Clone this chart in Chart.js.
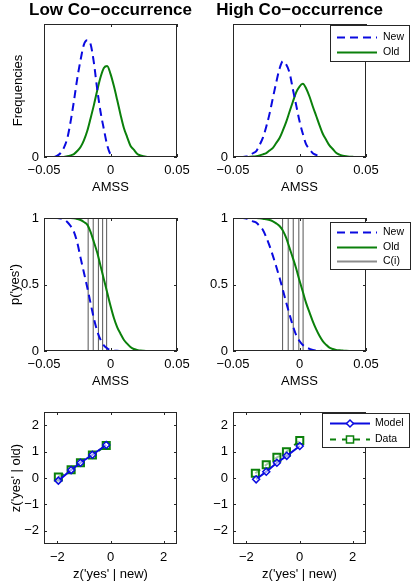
<!DOCTYPE html>
<html><head><meta charset="utf-8">
<script src="https://cdn.jsdelivr.net/npm/chart.js@4/dist/chart.umd.min.js"></script>
<style>
html,body{margin:0;padding:0;background:#fff;width:413px;height:582px;overflow:hidden}
canvas{position:absolute}
</style></head><body>
<canvas id="c1" width="206" height="200" style="left:0;top:0"></canvas>
<canvas id="c2" width="207" height="200" style="left:206px;top:0"></canvas>
<canvas id="c3" width="206" height="194" style="left:0;top:200px"></canvas>
<canvas id="c4" width="207" height="194" style="left:206px;top:200px"></canvas>
<canvas id="c5" width="206" height="188" style="left:0;top:394px"></canvas>
<canvas id="c6" width="207" height="188" style="left:206px;top:394px"></canvas>
<script>
// ---------------- data ----------------
const panelTitles = ['Low Co\u2212occurrence', 'High Co\u2212occurrence'];
const amss = [-0.045,-0.0425,-0.04,-0.0375,-0.035,-0.0325,-0.03,-0.0275,-0.025,-0.0225,-0.02,-0.0175,-0.015,-0.0125,-0.01,-0.0075,-0.005,-0.0025,0,0.0025,0.005,0.0075,0.01,0.0125,0.015,0.0175,0.02,0.0225,0.025,0.0275,0.03,0.0325,0.035,0.0375,0.04,0.0425,0.045];
const freqLowNew  = [null,0,0.01,0.03,0.07,0.14,0.266,0.42,0.59,0.73,0.845,0.878,0.85,0.71,0.51,0.34,0.21,0.09,0.02,0,null,null,null,null,null,null,null,null,null,null,null,null,null,null,null,null,null];
const freqLowOld  = [null,null,null,null,0,0.005,0.012,0.022,0.045,0.075,0.125,0.195,0.29,0.39,0.50,0.60,0.67,0.685,0.625,0.535,0.43,0.32,0.22,0.15,0.085,0.055,0.025,0.012,0.005,0,null,null,null,null,null,null,null];
const freqHighNew = [0,0,0.003,0.01,0.028,0.045,0.09,0.145,0.228,0.326,0.445,0.56,0.664,0.72,0.695,0.634,0.51,0.39,0.27,0.175,0.095,0.06,0.028,0.016,0.005,0,0,0,null,null,null,null,null,null,null,null,null];
const freqHighOld = [null,null,null,0.001,0.003,0.006,0.012,0.02,0.03,0.049,0.069,0.105,0.143,0.20,0.264,0.34,0.415,0.486,0.53,0.55,0.515,0.455,0.38,0.31,0.24,0.175,0.13,0.087,0.06,0.032,0.018,0.01,0.005,0.002,0.001,0,0];
const pYesLowNew  = [null,1,1,0.997,0.99,0.97,0.94,0.895,0.815,0.70,0.59,0.48,0.36,0.245,0.15,0.085,0.042,0.02,0.007,0.003,0.001,0,null,null,null,null,null,null,null,null,null,null,null,null,null,null,null];
const pYesLowOld  = [null,null,null,null,1,1,1,0.998,0.993,0.985,0.97,0.95,0.895,0.82,0.74,0.64,0.54,0.44,0.34,0.25,0.18,0.13,0.085,0.055,0.03,0.015,0.008,0.003,0.001,0,null,null,null,null,null,null,null];
const pYesHighNew = [1,1,0.997,0.99,0.975,0.965,0.94,0.91,0.855,0.79,0.715,0.635,0.55,0.46,0.365,0.275,0.19,0.12,0.075,0.045,0.028,0.016,0.008,0.004,0.002,0,0,0,null,null,null,null,null,null,null,null,null];
const pYesHighOld = [null,null,1,1,1,1,0.998,0.995,0.99,0.985,0.975,0.96,0.94,0.905,0.85,0.775,0.70,0.62,0.53,0.445,0.36,0.29,0.223,0.164,0.114,0.074,0.047,0.025,0.015,0.008,0.005,0.003,0.001,0,0,0,0];
const criteriaLow  = [-0.0168,-0.013,-0.0091,-0.0059,-0.0029];
const criteriaHigh = [-0.0127,-0.0085,-0.0047,-0.0005,0.0027];
const zNewModelLow  = [-1.96,-1.48,-1.13,-0.68,-0.16];
const zOldModelLow  = [-0.10,0.30,0.58,0.88,1.25];
const zNewDataLow   = [-1.96,-1.48,-1.13,-0.68,-0.16];
const zOldDataLow   = [0.04,0.31,0.58,0.87,1.23];
const zNewModelHigh = [-1.63,-1.25,-0.85,-0.48,0.01];
const zOldModelHigh = [-0.05,0.24,0.58,0.84,1.21];
const zNewDataHigh  = [-1.66,-1.25,-0.85,-0.49,0.01];
const zOldDataHigh  = [0.18,0.50,0.78,0.99,1.42];
const amssTicks = [-0.05,0,0.05];
const freqTicks = [0];
const pTicks = [0,0.5,1];
const zxTicks = [-2,0,2];
const zyTicks = [-2,-1,0,1,2];
const labNew = 'New', labOld = 'Old', labC = 'C(i)', labModel = 'Model', labData = 'Data';

// ---------------- styling ----------------
const FONT = "'Liberation Sans', Arial, Helvetica, sans-serif";
Chart.defaults.font.family = FONT;
Chart.defaults.font.size = 13;
Chart.defaults.color = '#000';
const BLUE = '#0a0ae0', GREEN = '#0b800b', GRAY = '#555555', AXIS = '#262626';
const DASH = [8,5];

function fmt(v){ return (v < 0 ? '\u2212' : '') + String(Math.abs(v)); }
function pts(xs, ys){ const out=[]; xs.forEach((x,i)=>{ if (ys[i]!==null && ys[i]!==undefined) out.push({x, y:ys[i]}); }); return out; }

function xScale(min,max,ticks,h,title,pb){
  return {type:'linear', position:'bottom', min, max,
    afterBuildTicks: s => { s.ticks = ticks.map(v=>({value:v})); },
    afterFit: s => { s.height = h; },
    grid:{display:false, drawTicks:false}, border:{display:false},
    ticks:{padding:6, autoSkip:false, maxRotation:0, minRotation:0, color:'#000', font:{size:13}, callback: v => fmt(v)},
    title: title ? {display:true, text:title, color:'#000', font:{size:13}, padding:{top:0,bottom:pb}} : {display:false}
  };
}
function yScale(min,max,ticks,w,title,pt){
  return {type:'linear', position:'left', min, max,
    afterBuildTicks: s => { s.ticks = ticks.map(v=>({value:v})); },
    afterFit: s => { s.width = w; },
    grid:{display:false, drawTicks:false}, border:{display:false},
    ticks:{padding:5, autoSkip:false, color:'#000', font:{size:13}, callback: v => fmt(v)},
    title: title ? {display:true, text:title, color:'#000', font:{size:13}, padding:{top:pt,bottom:0}} : {display:false}
  };
}

function marker(ctx, style, x, y, r, color){
  ctx.save();
  ctx.setLineDash([]);
  ctx.strokeStyle = color; ctx.lineWidth = 1.5; ctx.fillStyle = '#fff';
  ctx.beginPath();
  if (style === 'rectRot') { ctx.moveTo(x-r,y); ctx.lineTo(x,y-r); ctx.lineTo(x+r,y); ctx.lineTo(x,y+r); ctx.closePath(); }
  else { const s = r*Math.SQRT1_2; ctx.rect(x-s,y-s,2*s,2*s); }
  ctx.fill(); ctx.stroke();
  ctx.restore();
}

function makeFrame(spec){
  return {
    id: 'frame',
    afterDraw(chart){
      const ctx = chart.ctx, a = chart.chartArea;
      const xs = chart.scales.x, ys = chart.scales.y;
      ctx.save();
      ctx.setLineDash([]);
      ctx.strokeStyle = AXIS; ctx.lineWidth = 1;
      ctx.beginPath();
      xs.ticks.forEach(t => { const p = Math.round(xs.getPixelForValue(t.value)) + 0.5;
        ctx.moveTo(p, a.bottom); ctx.lineTo(p, a.bottom - 3); ctx.moveTo(p, a.top); ctx.lineTo(p, a.top + 3); });
      ys.ticks.forEach(t => { const p = Math.round(ys.getPixelForValue(t.value)) + 0.5;
        ctx.moveTo(a.left, p); ctx.lineTo(a.left + 3, p); ctx.moveTo(a.right, p); ctx.lineTo(a.right - 3, p); });
      ctx.stroke();
      ctx.strokeRect(a.left + 0.5, a.top + 0.5, a.right - a.left - 1, a.bottom - a.top - 1);
      if (spec.heading) {
        ctx.fillStyle = '#000'; ctx.font = 'bold 17px ' + FONT;
        ctx.textAlign = 'center'; ctx.textBaseline = 'alphabetic';
        ctx.fillText(spec.heading, (a.left + a.right)/2, a.top - 9);
      }
      const L = spec.legend;
      if (L) {
        const x0 = Math.round(a.right + L.dx), y0 = Math.round(a.top + L.dy);
        ctx.fillStyle = '#fff'; ctx.fillRect(x0, y0, L.w, L.h);
        ctx.strokeStyle = AXIS; ctx.lineWidth = 1;
        ctx.strokeRect(x0 + 0.5, y0 + 0.5, L.w - 1, L.h - 1);
        L.items.forEach((it, i) => {
          const y = y0 + L.rows[i] + 0.5;
          ctx.strokeStyle = it.color; ctx.lineWidth = it.width; ctx.setLineDash(it.dash || []);
          ctx.beginPath(); ctx.moveTo(x0 + L.lx0, y); ctx.lineTo(x0 + L.lx1, y); ctx.stroke();
          ctx.setLineDash([]);
          if (it.marker) marker(ctx, it.marker, x0 + (L.lx0 + L.lx1)/2, y, it.radius, it.color);
          ctx.fillStyle = '#000'; ctx.font = '10.5px ' + FONT;
          ctx.textAlign = 'left'; ctx.textBaseline = 'middle';
          ctx.fillText(it.label, x0 + L.tx, y);
        });
      }
      ctx.restore();
    }
  };
}

function curve(label, ys, color, dashed){
  return {label, data: pts(amss, ys), borderColor: color, borderWidth: 2, borderDash: dashed ? DASH : [],
    pointRadius: 0, fill: false, cubicInterpolationMode: 'monotone', spanGaps: false};
}
function critLines(cs){
  return cs.map((c,i) => ({label: labC, data: [{x:c, y:0},{x:c, y:1}], borderColor: GRAY, borderWidth: 1, pointRadius: 0, tension: 0}));
}

function make(id, datasets, scales, pad, spec){
  new Chart(document.getElementById(id), {
    type: 'line',
    data: {datasets},
    options: {
      responsive: false, animation: false, devicePixelRatio: 1,
      parsing: true,
      layout: {padding: pad},
      scales,
      plugins: {legend: {display: false}, tooltip: {enabled: false}, title: {display: false}}
    },
    plugins: [makeFrame(spec)]
  });
}

const legNO = {dx:-36, dy:1, w:80, h:37, rows:[12,27], lx0:7, lx1:47, tx:53,
  items:[{label:labNew, color:BLUE, width:2, dash:DASH},{label:labOld, color:GREEN, width:2}]};
const legNOC = {dx:-36, dy:4, w:81, h:48, rows:[10,25,39], lx0:7, lx1:47, tx:53,
  items:[{label:labNew, color:BLUE, width:2, dash:DASH},{label:labOld, color:GREEN, width:2},{label:labC, color:'#8c8c8c', width:2}]};
const legMD = {dx:-44, dy:1, w:88, h:35, rows:[10,26], lx0:8, lx1:48, tx:53,
  items:[{label:labModel, color:BLUE, width:2, marker:'rectRot', radius:3.5},{label:labData, color:GREEN, width:2, dash:[6,6], marker:'rect', radius:5}]};

// Row 1: frequency distributions
make('c1', [curve(labNew, freqLowNew, BLUE, true), curve(labOld, freqLowOld, GREEN, false)],
  {x: xScale(-0.05,0.05,amssTicks,43,'AMSS',5), y: yScale(0,1,freqTicks,44,'Frequencies',10.5)},
  {top:24, right:29, left:0, bottom:0}, {heading: panelTitles[0]});
make('c2', [curve(labNew, freqHighNew, BLUE, true), curve(labOld, freqHighOld, GREEN, false)],
  {x: xScale(-0.05,0.05,amssTicks,43,'AMSS',5), y: yScale(0,1,freqTicks,27,null,0)},
  {top:24, right:47, left:0, bottom:0}, {heading: panelTitles[1], legend: legNO});

// Row 2: p('yes')
make('c3', [curve(labNew, pYesLowNew, BLUE, true), curve(labOld, pYesLowOld, GREEN, false), ...critLines(criteriaLow)],
  {x: xScale(-0.05,0.05,amssTicks,43,'AMSS',5), y: yScale(0,1,pTicks,44,"p('yes')",7.2)},
  {top:18, right:29, left:0, bottom:0}, {});
make('c4', [curve(labNew, pYesHighNew, BLUE, true), curve(labOld, pYesHighOld, GREEN, false), ...critLines(criteriaHigh)],
  {x: xScale(-0.05,0.05,amssTicks,43,'AMSS',5), y: yScale(0,1,pTicks,27,null,0)},
  {top:18, right:47, left:0, bottom:0}, {legend: legNOC});

// Row 3: z-ROC
function zsets(nm, om, nd, od){
  return [
    {label: labModel, data: pts(nm, om), borderColor: BLUE, borderWidth: 2, tension: 0,
     pointStyle: 'rectRot', pointRadius: 3.5, pointBorderWidth: 1.5, pointBorderColor: BLUE, pointBackgroundColor: 'rgba(255,255,255,0.6)'},
    {label: labData, data: pts(nd, od), borderColor: GREEN, borderWidth: 2, borderDash: [6,6], tension: 0,
     pointStyle: 'rect', pointRadius: 5, pointBorderWidth: 2, pointBorderColor: GREEN, pointBackgroundColor: 'rgba(255,255,255,0.6)'}
  ];
}
make('c5', zsets(zNewModelLow, zOldModelLow, zNewDataLow, zOldDataLow),
  {x: xScale(-2.5,2.5,zxTicks,38,"z('yes' | new)",0.2), y: yScale(-2.5,2.5,zyTicks,44,"z('yes' | old)",8.8)},
  {top:18, right:29, left:0, bottom:0}, {});
make('c6', zsets(zNewModelHigh, zOldModelHigh, zNewDataHigh, zOldDataHigh),
  {x: xScale(-2.5,2.5,zxTicks,38,"z('yes' | new)",0.2), y: yScale(-2.5,2.5,zyTicks,27,null,0)},
  {top:18, right:47, left:0, bottom:0}, {legend: legMD});
</script>
</body></html>
